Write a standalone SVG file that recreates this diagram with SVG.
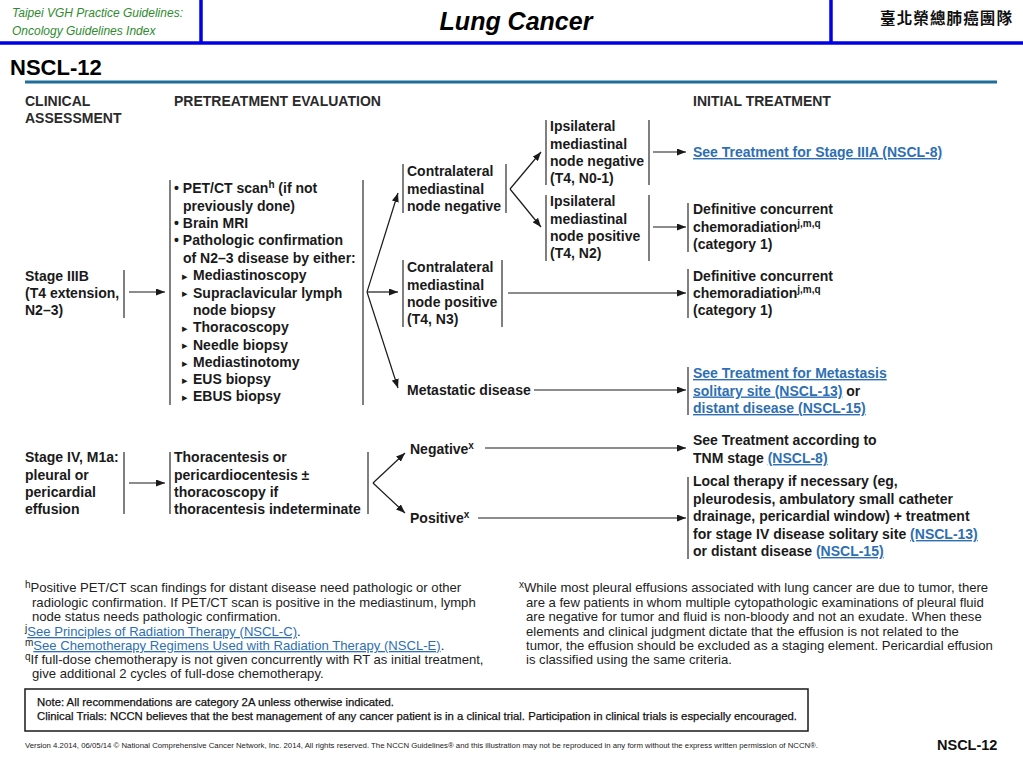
<svg xmlns="http://www.w3.org/2000/svg" width="1023" height="767" viewBox="0 0 1023 767">
<style>
text{font-family:"Liberation Sans",Arial,sans-serif;fill:#1a1a1a}
.b{font-size:14px;font-weight:bold}
.h{font-size:14px;font-weight:bold;fill:#2a2a2a}
.lk{fill:#2e6fb3;text-decoration:underline}
.fn{font-size:13.1px;font-weight:normal;fill:#222}
.sup{font-size:10px}
.tri{font-family:"DejaVu Sans",sans-serif;font-size:11px}
.ln{stroke:#1a1a1a;stroke-width:1.2;fill:none}
.bar{stroke:#2a2a2a;stroke-width:1.2}
.blue{stroke:#0000e6;stroke-width:3.5}
</style>
<defs>
<marker id="ah" markerUnits="userSpaceOnUse" markerWidth="9" markerHeight="7" refX="9" refY="3.5" orient="auto">
<path d="M0,0 L9,3.5 L0,7 z" fill="#1a1a1a"/>
</marker>
</defs>
<rect width="1023" height="767" fill="#ffffff"/>

<g id="header">
<line class="blue" x1="201" y1="0" x2="201" y2="43"/>
<line class="blue" x1="831" y1="0" x2="831" y2="43"/>
<line class="blue" x1="0" y1="43" x2="1023" y2="43"/>
<text x="12" y="17" style="font-size:12px;font-style:italic;fill:#2e8b2e">Taipei VGH Practice Guidelines:</text>
<text x="12" y="35" style="font-size:12px;font-style:italic;fill:#2e8b2e">Oncology Guidelines Index</text>
<text x="516" y="30" text-anchor="middle" style="font-size:25px;font-weight:bold;font-style:italic;fill:#000">Lung Cancer</text>
<text x="880" y="24" style="font-family:'Noto Sans CJK TC','Noto Sans CJK SC',sans-serif;font-size:15.5px;font-weight:bold;fill:#111" textLength="132" lengthAdjust="spacing">臺北榮總肺癌團隊</text>
<text x="10" y="75" style="font-size:22px;font-weight:bold;fill:#000">NSCL-12</text>
<line x1="25" y1="82" x2="997" y2="82" stroke="#1f6d99" stroke-width="3"/>
</g>

<g id="column-headings">
<text class="h" x="25" y="106">CLINICAL</text>
<text class="h" x="25" y="123">ASSESSMENT</text>
<text class="h" x="174" y="106">PRETREATMENT EVALUATION</text>
<text class="h" x="693" y="106">INITIAL TREATMENT</text>
</g>

<g id="connectors">
<line class="ln" x1="129" y1="292" x2="165" y2="292" marker-end="url(#ah)"/>
<line class="ln" x1="367" y1="292" x2="398" y2="193" marker-end="url(#ah)"/>
<line class="ln" x1="367" y1="292" x2="398" y2="292" marker-end="url(#ah)"/>
<line class="ln" x1="367" y1="292" x2="398" y2="388" marker-end="url(#ah)"/>
<line class="ln" x1="510" y1="189" x2="541" y2="152" marker-end="url(#ah)"/>
<line class="ln" x1="510" y1="189" x2="541" y2="227" marker-end="url(#ah)"/>
<line class="ln" x1="653" y1="152" x2="686" y2="152" marker-end="url(#ah)"/>
<line class="ln" x1="653" y1="227" x2="686" y2="227" marker-end="url(#ah)"/>
<line class="ln" x1="508" y1="293" x2="686" y2="293" marker-end="url(#ah)"/>
<line class="ln" x1="534" y1="390" x2="686" y2="390" marker-end="url(#ah)"/>
<line class="ln" x1="129" y1="483" x2="165" y2="483" marker-end="url(#ah)"/>
<line class="ln" x1="373" y1="483" x2="405" y2="453" marker-end="url(#ah)"/>
<line class="ln" x1="373" y1="483" x2="405" y2="513" marker-end="url(#ah)"/>
<line class="ln" x1="485" y1="448" x2="686" y2="448" marker-end="url(#ah)"/>
<line class="ln" x1="478" y1="518" x2="686" y2="518" marker-end="url(#ah)"/>
</g>

<g id="stage-iiib">
<line class="bar" x1="124" y1="270" x2="124" y2="318"/>
<text class="b" x="25" y="281">Stage IIIB</text>
<text class="b" x="25" y="298">(T4 extension,</text>
<text class="b" x="25" y="315">N2–3)</text>
</g>

<g id="pretreatment">
<line class="bar" x1="170" y1="180" x2="170" y2="405"/>
<line class="bar" x1="363" y1="180" x2="363" y2="405"/>
<text class="b" x="174" y="193">• PET/CT scan<tspan class="sup" dy="-5">h</tspan><tspan dy="5"> (if not</tspan></text>
<text class="b" x="183" y="210.5">previously done)</text>
<text class="b" x="174" y="228">• Brain MRI</text>
<text class="b" x="174" y="245">• Pathologic confirmation</text>
<text class="b" x="183" y="262.5">of N2–3 disease by either:</text>
<text class="tri" x="182" y="279.5">▸</text><text class="b" x="193" y="280">Mediastinoscopy</text>
<text class="tri" x="182" y="297">▸</text><text class="b" x="193" y="297.5">Supraclavicular lymph</text>
<text class="b" x="193" y="315">node biopsy</text>
<text class="tri" x="182" y="331.5">▸</text><text class="b" x="193" y="332">Thoracoscopy</text>
<text class="tri" x="182" y="349">▸</text><text class="b" x="193" y="349.5">Needle biopsy</text>
<text class="tri" x="182" y="366.5">▸</text><text class="b" x="193" y="367">Mediastinotomy</text>
<text class="tri" x="182" y="383.5">▸</text><text class="b" x="193" y="384">EUS biopsy</text>
<text class="tri" x="182" y="400.5">▸</text><text class="b" x="193" y="401">EBUS biopsy</text>
</g>

<g id="contra-negative">
<line class="bar" x1="403" y1="164" x2="403" y2="213"/>
<line class="bar" x1="506" y1="164" x2="506" y2="213"/>
<text class="b" x="407" y="176">Contralateral</text>
<text class="b" x="407" y="193.5">mediastinal</text>
<text class="b" x="407" y="211">node negative</text>
</g>

<g id="ipsi-negative">
<line class="bar" x1="546" y1="120" x2="546" y2="185"/>
<line class="bar" x1="649" y1="120" x2="649" y2="185"/>
<text class="b" x="550" y="131">Ipsilateral</text>
<text class="b" x="550" y="148.5">mediastinal</text>
<text class="b" x="550" y="166">node negative</text>
<text class="b" x="550" y="183">(T4, N0-1)</text>
</g>

<g id="ipsi-positive">
<line class="bar" x1="546" y1="195" x2="546" y2="261"/>
<line class="bar" x1="649" y1="195" x2="649" y2="261"/>
<text class="b" x="550" y="206">Ipsilateral</text>
<text class="b" x="550" y="223.5">mediastinal</text>
<text class="b" x="550" y="241">node positive</text>
<text class="b" x="550" y="258">(T4, N2)</text>
</g>

<g id="contra-positive">
<line class="bar" x1="403" y1="260" x2="403" y2="327"/>
<line class="bar" x1="502" y1="260" x2="502" y2="327"/>
<text class="b" x="407" y="272">Contralateral</text>
<text class="b" x="407" y="289.5">mediastinal</text>
<text class="b" x="407" y="307">node positive</text>
<text class="b" x="407" y="324">(T4, N3)</text>
</g>

<g id="metastatic">
<text class="b" x="407" y="395">Metastatic disease</text>
</g>

<g id="tx-stage-iiia">
<text class="b lk" x="693" y="157">See Treatment for Stage IIIA (NSCL-8)</text>
</g>

<g id="tx-chemorad-1">
<line class="bar" x1="688" y1="203" x2="688" y2="252"/>
<text class="b" x="693" y="214">Definitive concurrent</text>
<text class="b" x="693" y="231.5">chemoradiation<tspan class="sup" dy="-5">j,m,q</tspan></text>
<text class="b" x="693" y="249">(category 1)</text>
</g>

<g id="tx-chemorad-2">
<line class="bar" x1="688" y1="269" x2="688" y2="318"/>
<text class="b" x="693" y="281">Definitive concurrent</text>
<text class="b" x="693" y="298">chemoradiation<tspan class="sup" dy="-5">j,m,q</tspan></text>
<text class="b" x="693" y="315">(category 1)</text>
</g>

<g id="tx-metastasis">
<line class="bar" x1="688" y1="367" x2="688" y2="415"/>
<text class="b lk" x="693" y="378">See Treatment for Metastasis</text>
<text class="b" x="693" y="395.5"><tspan class="lk">solitary site (NSCL-13)</tspan> or</text>
<text class="b lk" x="693" y="413">distant disease (NSCL-15)</text>
</g>

<g id="stage-iv">
<line class="bar" x1="124" y1="452" x2="124" y2="514"/>
<text class="b" x="25" y="462">Stage IV, M1a:</text>
<text class="b" x="25" y="479.5">pleural or</text>
<text class="b" x="25" y="497">pericardial</text>
<text class="b" x="25" y="514">effusion</text>
</g>

<g id="thoracentesis">
<line class="bar" x1="170" y1="452" x2="170" y2="514"/>
<line class="bar" x1="368" y1="452" x2="368" y2="514"/>
<text class="b" x="174" y="462">Thoracentesis or</text>
<text class="b" x="174" y="479.5">pericardiocentesis ±</text>
<text class="b" x="174" y="497">thoracoscopy if</text>
<text class="b" x="174" y="514">thoracentesis indeterminate</text>
</g>

<g id="negative">
<text class="b" x="410" y="454">Negative<tspan class="sup" dy="-5">x</tspan></text>
</g>
<g id="positive">
<text class="b" x="410" y="523">Positive<tspan class="sup" dy="-5">x</tspan></text>
</g>

<g id="tx-tnm">
<text class="b" x="693" y="445">See Treatment according to</text>
<text class="b" x="693" y="463">TNM stage <tspan class="lk">(NSCL-8)</tspan></text>
</g>

<g id="tx-local">
<line class="bar" x1="688" y1="477" x2="688" y2="559"/>
<text class="b" x="693" y="486">Local therapy if necessary (eg,</text>
<text class="b" x="693" y="504">pleurodesis, ambulatory small catheter</text>
<text class="b" x="693" y="521">drainage, pericardial window) + treatment</text>
<text class="b" x="693" y="539">for stage IV disease solitary site <tspan class="lk">(NSCL-13)</tspan></text>
<text class="b" x="693" y="556">or distant disease <tspan class="lk">(NSCL-15)</tspan></text>
</g>

<g id="footnotes">
<text class="fn" x="25" y="592"><tspan class="sup" dy="-4">h</tspan><tspan dy="4">Positive PET/CT scan findings for distant disease need pathologic or other</tspan></text>
<text class="fn" x="32" y="607">radiologic confirmation. If PET/CT scan is positive in the mediastinum, lymph</text>
<text class="fn" x="32" y="621">node status needs pathologic confirmation.</text>
<text class="fn" x="25" y="636"><tspan class="sup" dy="-4">j</tspan><tspan dy="4" class="lk">See Principles of Radiation Therapy (NSCL-C)</tspan>.</text>
<text class="fn" x="25" y="650"><tspan class="sup" dy="-4">m</tspan><tspan dy="4" class="lk">See Chemotherapy Regimens Used with Radiation Therapy (NSCL-E)</tspan>.</text>
<text class="fn" x="25" y="664"><tspan class="sup" dy="-4">q</tspan><tspan dy="4">If full-dose chemotherapy is not given concurrently with RT as initial treatment,</tspan></text>
<text class="fn" x="32" y="678">give additional 2 cycles of full-dose chemotherapy.</text>

<text class="fn" x="519" y="592"><tspan class="sup" dy="-4">x</tspan><tspan dy="4">While most pleural effusions associated with lung cancer are due to tumor, there</tspan></text>
<text class="fn" x="526" y="607">are a few patients in whom multiple cytopathologic examinations of pleural fluid</text>
<text class="fn" x="526" y="621">are negative for tumor and fluid is non-bloody and not an exudate. When these</text>
<text class="fn" x="526" y="636">elements and clinical judgment dictate that the effusion is not related to the</text>
<text class="fn" x="526" y="650">tumor, the effusion should be excluded as a staging element. Pericardial effusion</text>
<text class="fn" x="526" y="664">is classified using the same criteria.</text>
</g>

<g id="note-box">
<rect x="25" y="689" width="783" height="42" fill="none" stroke="#1a1a1a" stroke-width="1.5"/>
<text x="37" y="706" style="font-size:11.5px;fill:#111;stroke:#111;stroke-width:0.25" textLength="357" lengthAdjust="spacingAndGlyphs">Note:  All recommendations are category 2A unless otherwise indicated.</text>
<text x="37" y="720" style="font-size:11.5px;fill:#111;stroke:#111;stroke-width:0.25" textLength="760" lengthAdjust="spacingAndGlyphs">Clinical Trials: NCCN believes that the best management of any cancer patient is in a clinical trial.  Participation in clinical trials is especially encouraged.</text>
</g>

<g id="footer">
<text x="25" y="748" style="font-size:8px;fill:#222" textLength="793" lengthAdjust="spacingAndGlyphs">Version 4.2014, 06/05/14 © National Comprehensive Cancer Network, Inc. 2014, All rights reserved. The NCCN Guidelines® and this illustration may not be reproduced in any form without the express written permission of NCCN®.</text>
<text x="937" y="750" style="font-size:14.5px;font-weight:bold;fill:#111">NSCL-12</text>
</g>
</svg>
